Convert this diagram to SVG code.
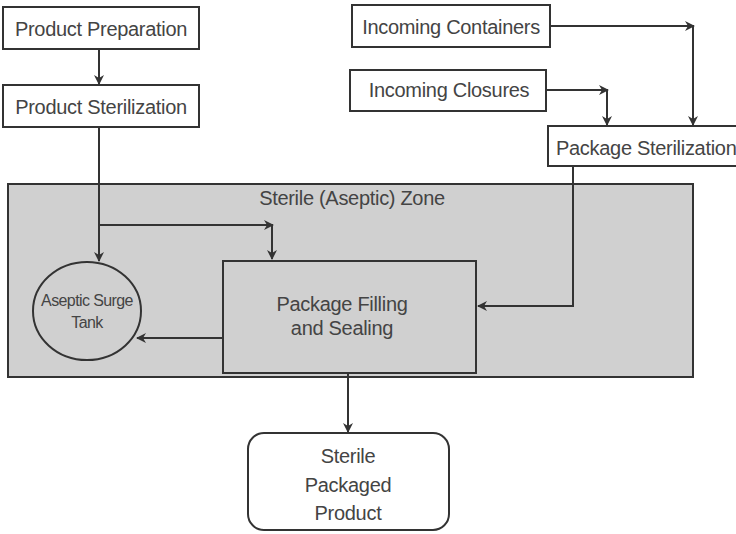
<svg xmlns="http://www.w3.org/2000/svg" width="736" height="534" viewBox="0 0 736 534">
<defs>
<marker id="ah" viewBox="0 0 10 10" refX="9" refY="5" markerWidth="10" markerHeight="10" markerUnits="userSpaceOnUse" orient="auto">
<path d="M0,0 L10,5 L0,10 L3,5 Z" fill="#333"/>
</marker>
<style>
.box{fill:#fff;stroke:#333;stroke-width:2}
.zone{fill:#d0d0d0;stroke:#333;stroke-width:2}
.t{font-family:"Liberation Sans",Arial,sans-serif;font-size:20px;fill:#444;text-anchor:middle;letter-spacing:-0.3px}
.s{font-family:"Liberation Sans",Arial,sans-serif;font-size:16px;fill:#444;text-anchor:middle;letter-spacing:-0.6px}
.c{fill:none;stroke:#333;stroke-width:2}
</style>
</defs>
<rect width="736" height="534" fill="#fff"/>
<g id="zone"><rect class="zone" x="8" y="184" width="685" height="193"/><text class="t" x="352" y="205">Sterile (Aseptic) Zone</text></g>
<g id="prep"><rect class="box" x="3" y="7" width="196" height="42"/><text class="t" x="101" y="36">Product Preparation</text></g>
<g id="psteril"><rect class="box" x="3" y="85" width="196" height="42"/><text class="t" x="101" y="114">Product Sterilization</text></g>
<g id="containers"><rect class="box" x="352" y="5" width="198" height="42"/><text class="t" x="451" y="34">Incoming Containers</text></g>
<g id="closures"><rect class="box" x="350" y="70" width="196" height="41"/><text class="t" x="449" y="97">Incoming Closures</text></g>
<g id="pkgsteril"><rect class="box" x="548" y="126" width="200" height="40"/><text class="t" x="556" y="155" style="text-anchor:start">Package Sterilization</text></g>
<g id="tank"><ellipse fill="none" stroke="#333" stroke-width="2" cx="87" cy="311" rx="54" ry="49"/><text class="s" x="87" y="306">Aseptic Surge</text><text class="s" x="87" y="328">Tank</text></g>
<g id="filling"><rect class="zone" x="223" y="261" width="253" height="112"/><text class="t" x="342" y="311">Package Filling</text><text class="t" x="342" y="335">and Sealing</text></g>
<g id="product"><rect class="box" x="248" y="433" width="201" height="97" rx="16"/><text class="t" x="348" y="463">Sterile</text><text class="t" x="348" y="492">Packaged</text><text class="t" x="348" y="520">Product</text></g>
<g id="connectors">
<line class="c" x1="99" y1="49" x2="99" y2="84" marker-end="url(#ah)"/>
<line class="c" x1="99" y1="127" x2="99" y2="261" marker-end="url(#ah)"/>
<line class="c" x1="99" y1="225" x2="273" y2="225" marker-end="url(#ah)"/>
<line class="c" x1="272" y1="225" x2="272" y2="259" marker-end="url(#ah)"/>
<line class="c" x1="223" y1="338" x2="137" y2="338" marker-end="url(#ah)"/>
<polyline class="c" points="573,166 573,306 478,306" marker-end="url(#ah)"/>
<line class="c" x1="550" y1="26" x2="694" y2="26" marker-end="url(#ah)"/>
<line class="c" x1="693" y1="26" x2="693" y2="125" marker-end="url(#ah)"/>
<line class="c" x1="546" y1="90" x2="608" y2="90" marker-end="url(#ah)"/>
<line class="c" x1="607" y1="90" x2="607" y2="125" marker-end="url(#ah)"/>
<line class="c" x1="348" y1="373" x2="348" y2="432" marker-end="url(#ah)"/>
</g>
</svg>
